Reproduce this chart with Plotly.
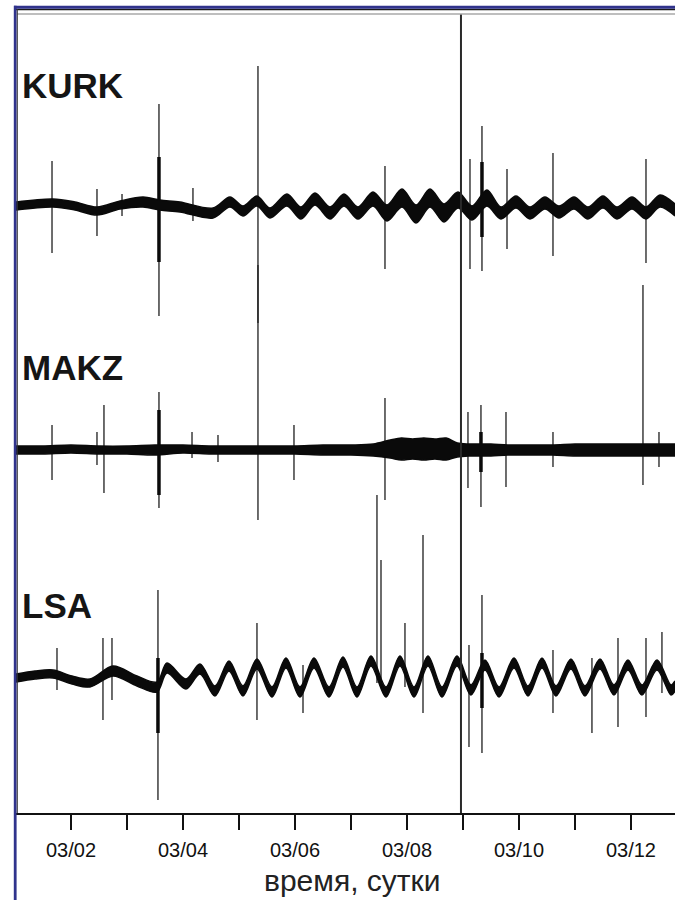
import plotly.graph_objects as go

# ---------------- data (time in days of March, amplitudes in relative units) ----------------
stations = ["KURK", "MAKZ", "LSA"]

kurk_t = [1.018, 1.678, 2.071, 2.464, 2.875, 3.286, 3.589, 3.946, 4.536, 4.839, 5.071, 5.321,
          5.553, 5.857, 6.107, 6.357, 6.625, 6.875, 7.125, 7.393, 7.643, 7.911, 8.161, 8.411,
          8.661, 8.911, 9.161, 9.428, 9.678, 9.946, 10.196, 10.464, 10.714, 10.982, 11.232,
          11.500, 11.750, 12.018, 12.268, 12.518, 12.786]
kurk_amp = [1, 4, 1, -4, 2, 5, 2, 0, -6, 5, -4, 6, -6, 7, -6, 8, -6, 7, -6, 8, -6, 9, -7, 9,
            -6, 7, -6, 9, -6, 5, -6, 4, -5, 4, -6, 5, -6, 4, -6, 6, -3]
kurk_noise = [4, 4, 4, 4, 4, 5, 5, 5, 5, 5, 5, 5, 5, 6, 6, 6, 6, 6, 6, 7, 8, 9, 9, 9, 9, 8,
              7, 8, 6, 6, 6, 6, 6, 6, 6, 6, 6, 6, 6, 6, 6]

makz_t = [1.018, 1.5, 2.0, 2.5, 3.0, 3.5, 4.0, 4.5, 5.0, 5.5, 6.0, 6.5, 7.0, 7.4, 7.7, 7.9,
          8.1, 8.3, 8.5, 8.7, 8.9, 9.1, 9.3, 9.5, 9.8, 10.2, 10.6, 11.0, 11.4, 11.8, 12.2, 12.786]
makz_amp = [0, 0, 1, 0, 0, 0, 1, 0, 0, 0, 0, 0, 0, 0, 1, 1, 1, 1, 1, 1, 0, 0, 0, 0, 0, 0, 0,
            0, 0, 0, 0, 0]
makz_noise = [4, 4, 4, 4, 4, 5, 4, 4, 4, 4, 4, 5, 5, 6, 9, 11, 10, 11, 10, 11, 7, 6, 6, 6,
              5, 5, 5, 6, 6, 6, 6, 6]

lsa_t = [1.018, 1.357, 1.678, 2.018, 2.339, 2.750, 3.178, 3.536, 3.714, 4.053, 4.303, 4.571,
         4.821, 5.071, 5.321, 5.589, 5.839, 6.089, 6.339, 6.607, 6.857, 7.107, 7.357, 7.625,
         7.875, 8.125, 8.375, 8.625, 8.893, 9.143, 9.393, 9.643, 9.911, 10.161, 10.411,
         10.661, 10.928, 11.178, 11.446, 11.696, 11.946, 12.196, 12.464, 12.714, 12.786]
lsa_amp = [0, 3, 4, -2, -5, 7, -3, -9, 10, -6, 9, -13, 12, -13, 14, -14, 15, -14, 15, -14,
           16, -14, 17, -14, 17, -14, 17, -14, 17, -12, 13, -14, 15, -13, 15, -13, 14, -13,
           14, -12, 13, -12, 13, -12, -8]
lsa_noise = [4, 4, 4, 4, 4, 5, 5, 5, 5, 5, 5, 5, 5, 5, 5, 5, 5, 5, 5, 5, 5, 5, 5, 5, 5, 5,
             5, 5, 5, 5, 5, 5, 5, 5, 5, 5, 5, 5, 5, 5, 5, 5, 5, 5, 5]

# spikes: time, amplitude up, amplitude down
kurk_spk_t = [1.661, 2.464, 2.911, 3.571, 4.178, 5.339, 7.607, 9.125, 9.339, 9.786, 10.607, 12.268]
kurk_spk_up = [46, 18, 13, 103, 19, 141, 41, 48, 81, 38, 54, 48]
kurk_spk_dn = [46, 29, 9, 109, 14, 116, 62, 62, 64, 42, 49, 56]
kurk_evt_t = [3.571, 9.339]
kurk_evt_up = [50, 45]
kurk_evt_dn = [55, 30]

makz_spk_t = [1.661, 2.464, 2.589, 3.571, 4.161, 4.625, 5.339, 5.982, 7.607, 9.089, 9.321,
              9.768, 10.607, 12.214, 12.500]
makz_spk_up = [25, 18, 45, 58, 18, 15, 185, 25, 52, 38, 45, 38, 18, 165, 18]
makz_spk_dn = [30, 15, 43, 58, 8, 12, 70, 30, 50, 38, 57, 37, 17, 35, 17]
makz_evt_t = [3.571, 9.321]
makz_evt_up = [40, 18]
makz_evt_dn = [45, 22]

lsa_spk_t = [1.750, 2.571, 2.732, 3.553, 5.321, 6.143, 7.464, 7.536, 7.964, 8.286, 9.107,
             9.339, 10.607, 11.303, 11.768, 12.268, 12.553]
lsa_spk_up = [30, 40, 40, 88, 55, 13, 183, 118, 55, 143, 33, 83, 28, 20, 40, 40, 46]
lsa_spk_dn = [12, 42, 22, 122, 42, 35, 5, 8, 9, 35, 69, 75, 35, 55, 49, 39, 15]
lsa_evt_t = [3.553, 9.339]
lsa_evt_up = [20, 25]
lsa_evt_dn = [55, 30]

marker_t = 8.964  # long vertical time marker

tick_days = [2, 3, 4, 5, 6, 7, 8, 9, 10, 11, 12]
tick_text = ["03/02", "", "03/04", "", "03/06", "", "03/08", "", "03/10", "", "03/12"]
x_title = "время, сутки"

# ---------------- layout constants ----------------
W, H = 675, 900
PL, PR, PT, PB = 16, 675, 14, 813
X_RANGE = [1.018, 12.786]
Y_RANGE = [0, PB - PT]
BASE = {"KURK": PB - 207, "MAKZ": PB - 450, "LSA": PB - 678}
LABEL_PX = {"KURK": 86, "MAKZ": 368, "LSA": 605}
FONT = "Liberation Sans, Arial, sans-serif"
NAVY = "#30338c"


def pxx(px):
    return (px - PL) / (PR - PL)


def pxy(py):
    return (PB - py) / (PB - PT)


series = {
    "KURK": (kurk_t, kurk_amp, kurk_noise, kurk_spk_t, kurk_spk_up, kurk_spk_dn,
             kurk_evt_t, kurk_evt_up, kurk_evt_dn),
    "MAKZ": (makz_t, makz_amp, makz_noise, makz_spk_t, makz_spk_up, makz_spk_dn,
             makz_evt_t, makz_evt_up, makz_evt_dn),
    "LSA": (lsa_t, lsa_amp, lsa_noise, lsa_spk_t, lsa_spk_up, lsa_spk_dn,
            lsa_evt_t, lsa_evt_up, lsa_evt_dn),
}

fig = go.Figure()

for name in stations:
    t, amp, noise, st, su, sd, et, eu, ed = series[name]
    off = BASE[name]
    lower = [off + a - n for a, n in zip(amp, noise)]
    upper = [off + a + n for a, n in zip(amp, noise)]
    # spikes
    sx, sy = [], []
    for ti, u, d in zip(st, su, sd):
        sx += [ti, ti, None]
        sy += [off + u, off - d, None]
    fig.add_trace(go.Scatter(x=sx, y=sy, mode="lines",
                             line=dict(color="#1e1e1e", width=1.3),
                             hoverinfo="skip", showlegend=False))
    ex, ey = [], []
    for ti, u, d in zip(et, eu, ed):
        ex += [ti, ti, None]
        ey += [off + u, off - d, None]
    fig.add_trace(go.Scatter(x=ex, y=ey, mode="lines",
                             line=dict(color="#0a0a0a", width=3.5),
                             hoverinfo="skip", showlegend=False))
    # noisy tidal band
    fig.add_trace(go.Scatter(x=t, y=lower, mode="lines",
                             line=dict(color="#0a0a0a", width=1.5, shape="spline", smoothing=0.9),
                             hoverinfo="skip", showlegend=False))
    fig.add_trace(go.Scatter(x=t, y=upper, mode="lines", fill="tonexty", fillcolor="#0a0a0a",
                             line=dict(color="#0a0a0a", width=1.5, shape="spline", smoothing=0.9),
                             hoverinfo="skip", showlegend=False))

shapes = [
    # long vertical marker
    dict(type="line", xref="x", yref="paper", x0=marker_t, x1=marker_t, y0=0, y1=1,
         line=dict(color="#2a2a2a", width=2)),
    # frame lines
    dict(type="line", xref="paper", yref="paper", x0=pxx(17), x1=pxx(675), y0=pxy(14), y1=pxy(14),
         line=dict(color="#a8a8a8", width=1.5)),
    dict(type="line", xref="paper", yref="paper", x0=pxx(16), x1=pxx(675), y0=pxy(9.5), y1=pxy(9.5),
         line=dict(color="#1a1a1a", width=1.5)),
    dict(type="rect", xref="paper", yref="paper", x0=pxx(14), x1=pxx(675), y0=pxy(8.8), y1=pxy(5.8),
         line=dict(width=0), fillcolor=NAVY),
    dict(type="rect", xref="paper", yref="paper", x0=pxx(13.8), x1=pxx(16.6), y0=pxy(900), y1=pxy(5.8),
         line=dict(width=0), fillcolor=NAVY),
    dict(type="line", xref="paper", yref="paper", x0=pxx(17.3), x1=pxx(17.3), y0=pxy(813), y1=pxy(9),
         line=dict(color="#333333", width=1)),
]

annotations = []
for name in stations:
    annotations.append(dict(text="<b>%s</b>" % name, xref="paper", yref="paper", x=pxx(20),
                            y=pxy(LABEL_PX[name]),
                            xanchor="left", yanchor="middle", showarrow=False,
                            font=dict(family=FONT, size=35, color="#151515")))
annotations.append(dict(text=x_title, xref="paper", yref="paper", x=pxx(352), y=pxy(881),
                        xanchor="center", yanchor="middle", showarrow=False,
                        font=dict(family=FONT, size=30, color="#222222")))

fig.update_layout(
    width=W, height=H,
    margin=dict(l=PL, r=W - PR, t=PT, b=H - PB, pad=0),
    paper_bgcolor="white", plot_bgcolor="white",
    showlegend=False,
    shapes=shapes, annotations=annotations,
    xaxis=dict(range=X_RANGE, showgrid=False, zeroline=False, showline=True,
               linecolor="#111111", linewidth=2, ticks="outside", ticklen=15, tickwidth=2,
               tickcolor="#111111", tickvals=tick_days, ticktext=tick_text,
               tickfont=dict(family=FONT, size=20, color="#111111"), ticklabelstandoff=3,
               fixedrange=True),
    yaxis=dict(range=Y_RANGE, visible=False, fixedrange=True),
)

fig.write_html("out.html")
